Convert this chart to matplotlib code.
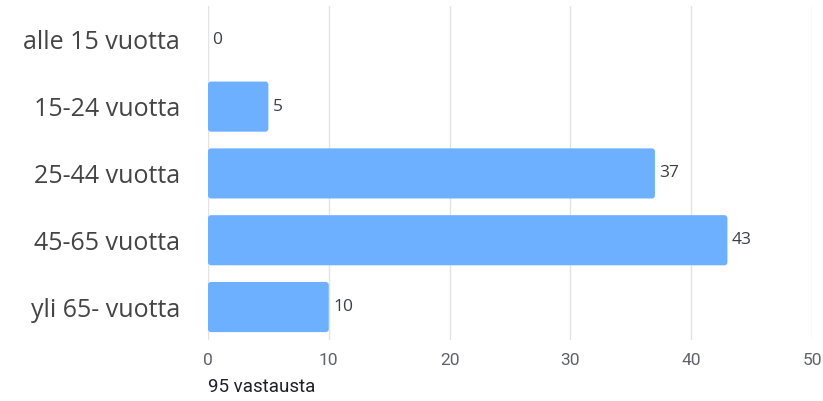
import matplotlib
matplotlib.use("Agg")
import matplotlib.pyplot as plt
from matplotlib.patches import FancyBboxPatch

categories = ["alle 15 vuotta", "15-24 vuotta", "25-44 vuotta", "45-65 vuotta", "yli 65- vuotta"]
values = [0, 5, 37, 43, 10]
xticks = [0, 10, 20, 30, 40, 50]
footer = "95 vastausta"

bar_color = "#6db0ff"

fig = plt.figure(figsize=(8.23, 4.01), dpi=100)
ax = fig.add_axes([0.2527, 0.151, 0.7339, 0.833])

ypos = list(range(len(categories)))
bars = ax.barh(ypos, values, height=0.75, color=bar_color)
ax.set_ylim(len(categories) - 0.5, -0.5)
ax.set_xlim(0, 50)

# rounded corners
aspect = (0.833 * 401 / len(categories)) ** -1 / ((0.7339 * 823 / 50) ** -1)
for b in bars:
    w = b.get_width()
    b.set_visible(False)
    if w <= 0:
        continue
    p = FancyBboxPatch((b.get_x(), b.get_y()), w, b.get_height(),
                       boxstyle="round,pad=0,rounding_size=0.25",
                       mutation_aspect=aspect,
                       facecolor=bar_color, edgecolor="none", zorder=3)
    ax.add_patch(p)

for y, v in zip(ypos, values):
    ax.text(v + 0.35, y, str(v), va="center", ha="left",
            fontsize=12.5, color="#3c4043", family="Open Sans")

ax.set_yticks(ypos)
ax.set_yticklabels(categories, fontsize=18, color="#444444", family="Open Sans")
ax.set_xticks(xticks)
ax.set_xticklabels([str(t) for t in xticks], fontsize=12.5, color="#5f6368", family="Roboto")
ax.tick_params(axis="both", length=0)
ax.tick_params(axis="y", pad=20)
ax.tick_params(axis="x", pad=9)
ax.grid(axis="x", color="#e3e3e3", linewidth=1)
ax.set_axisbelow(True)
for s in ax.spines.values():
    s.set_visible(False)

fig.text(208 / 823, 1 - 387 / 401, footer, fontsize=13.5, color="#202124",
         family="Roboto", ha="left", va="center")

fig.savefig("out.png", dpi=100)
